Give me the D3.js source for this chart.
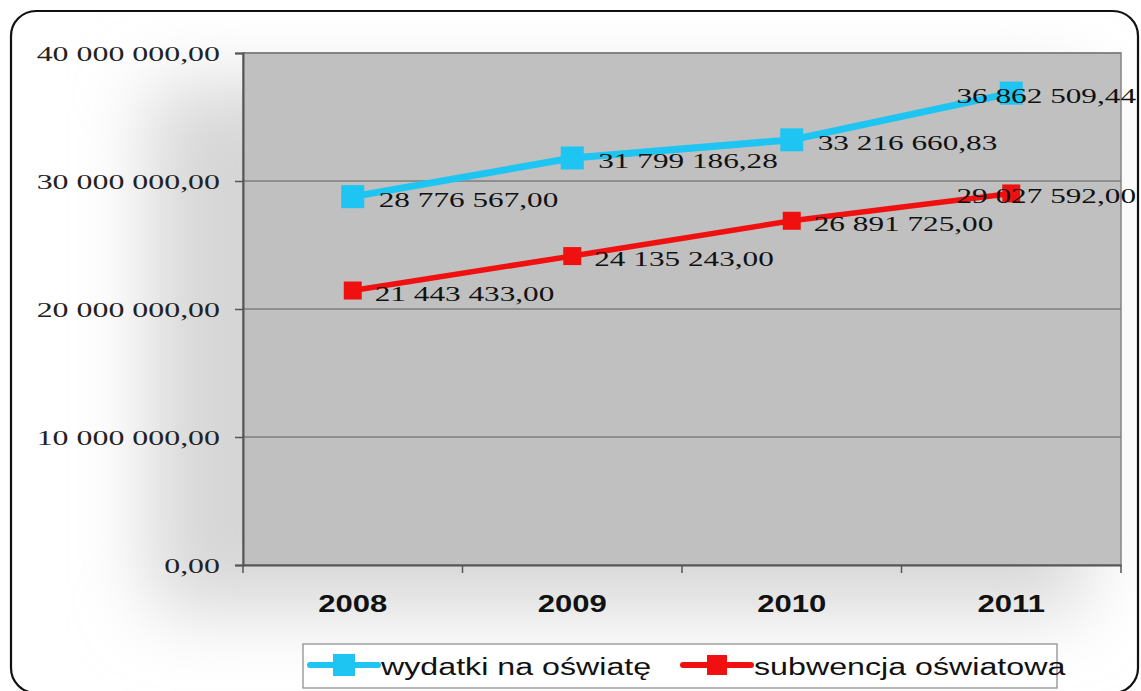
<!DOCTYPE html>
<html><head><meta charset="utf-8">
<script src="https://cdn.jsdelivr.net/npm/d3@7"></script>
<style>body{margin:0;background:#fff}svg{display:block}</style>
</head><body>
<svg id="c" width="1141" height="691"></svg>
<script>
const categories = ["2008","2009","2010","2011"];
const wydatki = [28776567.00, 31799186.28, 33216660.83, 36862509.44];
const subwencja = [21443433.00, 24135243.00, 26891725.00, 29027592.00];
const yTicks = [0, 10000000, 20000000, 30000000, 40000000];
const seriesNames = ["wydatki na oświatę", "subwencja oświatowa"];
const seriesColors = ["#1ec5f2", "#f01010"];

const svg = d3.select("#c");
const W = 1141, H = 691;
const plot = {l: 243, r: 1121, t: 53, b: 565};

function fmt(v){
  const s = v.toFixed(2);
  let [i, d] = s.split(".");
  i = i.replace(/\B(?=(\d{3})+(?!\d))/g, " ");
  return i + "," + d;
}

const SX = 1.42;
function stext(parent, x, y, str, opts){
  const g = parent.append("g").attr("transform", `translate(${x},${y}) scale(${opts.sx||SX},1)`);
  return g.append("text").text(str)
    .attr("font-family", opts.family)
    .attr("font-size", opts.size)
    .attr("font-weight", opts.weight||"normal")
    .attr("fill", opts.fill||"#111")
    .attr("text-anchor", opts.anchor||"start");
}

const defs = svg.append("defs");
const blur = defs.append("filter").attr("id","soft").attr("x","-50%").attr("y","-50%").attr("width","200%").attr("height","200%");
blur.append("feGaussianBlur").attr("stdDeviation", 38);
defs.append("clipPath").attr("id","inner").append("rect")
  .attr("x",12).attr("y",12).attr("width",1125).attr("height",680).attr("rx",25);

// background
svg.append("rect").attr("x",0).attr("y",0).attr("width",W).attr("height",H).attr("fill","#fff");
svg.append("g").attr("clip-path","url(#inner)")
  .append("rect").attr("x",150).attr("y",85).attr("width",935).attr("height",525)
  .attr("fill","#d6d6d6").attr("filter","url(#soft)");

// frame (rounded)
svg.append("rect").attr("x",11).attr("y",11).attr("width",1127).attr("height",682)
  .attr("rx",25).attr("ry",25).attr("fill","none").attr("stroke","#111").attr("stroke-width",2.2);

const x = d3.scaleBand().domain(categories).range([plot.l, plot.r]).padding(0);
const y = d3.scaleLinear().domain([0, 40000000]).range([plot.b, plot.t]);

// plot area
svg.append("rect").attr("x",plot.l).attr("y",plot.t).attr("width",plot.r-plot.l).attr("height",plot.b-plot.t)
  .attr("fill","#c0c0c0").attr("stroke","#858585").attr("stroke-width",1.5);

// gridlines
svg.append("g").selectAll("line").data(yTicks.filter(d=>d>0)).join("line")
  .attr("x1",plot.l).attr("x2",plot.r).attr("y1",d=>y(d)).attr("y2",d=>y(d))
  .attr("stroke","#7e7e7e").attr("stroke-width",1.5);

// y axis
const yAxis = svg.append("g").attr("transform",`translate(${plot.l},0)`)
  .call(d3.axisLeft(y).tickValues(yTicks).tickSize(8).tickFormat(""));
yAxis.select(".domain").attr("stroke","#555").attr("stroke-width",2);
yAxis.selectAll(".tick line").attr("stroke","#555").attr("stroke-width",1.5);
yTicks.forEach(v=>{
  stext(svg, 220, y(v)+8, fmt(v), {family:"'Liberation Serif','Times New Roman',serif", size:22, anchor:"end", sx:1.45, fill:"#222"});
});

// x axis
const xAxis = svg.append("g").attr("transform",`translate(0,${plot.b})`)
  .call(d3.axisBottom(x).tickSize(0).tickFormat(""));
xAxis.select(".domain").attr("stroke","#555").attr("stroke-width",2);
const bounds = categories.map(c=>x(c)).concat([x(categories[categories.length-1])+x.bandwidth()]);
svg.append("g").selectAll("line").data(bounds).join("line")
  .attr("x1",d=>d).attr("x2",d=>d).attr("y1",plot.b).attr("y2",plot.b+8)
  .attr("stroke","#555").attr("stroke-width",1.5);
categories.forEach(c=>{
  stext(svg, x(c)+x.bandwidth()/2, 612, c, {family:"'Liberation Sans',Arial,sans-serif", size:23, weight:"bold", anchor:"middle", sx:1.35, fill:"#111"});
});

// series
const series = [
  {name: seriesNames[0], values: wydatki, color: seriesColors[0], lw: 7, ms: 23},
  {name: seriesNames[1], values: subwencja, color: seriesColors[1], lw: 5.5, ms: 18}
];
const cx = c => x(c) + x.bandwidth()/2;
series.forEach(s=>{
  const pts = categories.map((c,i)=>[cx(c), y(s.values[i])]);
  svg.append("path").attr("d", d3.line()(pts)).attr("fill","none")
    .attr("stroke", s.color).attr("stroke-width", s.lw).attr("stroke-linejoin","round");
  svg.append("g").selectAll("rect").data(pts).join("rect")
    .attr("x",d=>d[0]-s.ms/2).attr("y",d=>d[1]-s.ms/2).attr("width",s.ms).attr("height",s.ms)
    .attr("fill", s.color);
});
// data labels
series.forEach((s,si)=>{
  categories.forEach((c,i)=>{
    const px = cx(c), py = y(s.values[i]);
    const last = i === categories.length-1;
    const off = si===0 ? 26 : 22;
    stext(svg, last ? 1136 : px+off, py+10, fmt(s.values[i]),
      {family:"'Liberation Serif','Times New Roman',serif", size:22, anchor: last ? "end" : "start", sx:1.42, fill:"#111"});
  });
});

// legend
svg.append("rect").attr("x",303).attr("y",644).attr("width",754).attr("height",44)
  .attr("fill","#fff").attr("stroke","#888").attr("stroke-width",1.2);
const legItems = [
  {x0: 310, x1: 378, tx: 381, s: series[0], sq: 22},
  {x0: 683, x1: 751, tx: 754, s: series[1], sq: 20}
];
legItems.forEach(it=>{
  const ly = 665;
  svg.append("line").attr("x1",it.x0).attr("x2",it.x1).attr("y1",ly).attr("y2",ly)
    .attr("stroke",it.s.color).attr("stroke-width",6).attr("stroke-linecap","round");
  const mx = (it.x0+it.x1)/2;
  svg.append("rect").attr("x",mx-it.sq/2).attr("y",ly-it.sq/2).attr("width",it.sq).attr("height",it.sq).attr("fill",it.s.color);
  stext(svg, it.tx, 675, it.s.name, {family:"'Liberation Sans',Arial,sans-serif", size:23, anchor:"start", sx:1.4, fill:"#111"});
});
</script>
</body></html>
